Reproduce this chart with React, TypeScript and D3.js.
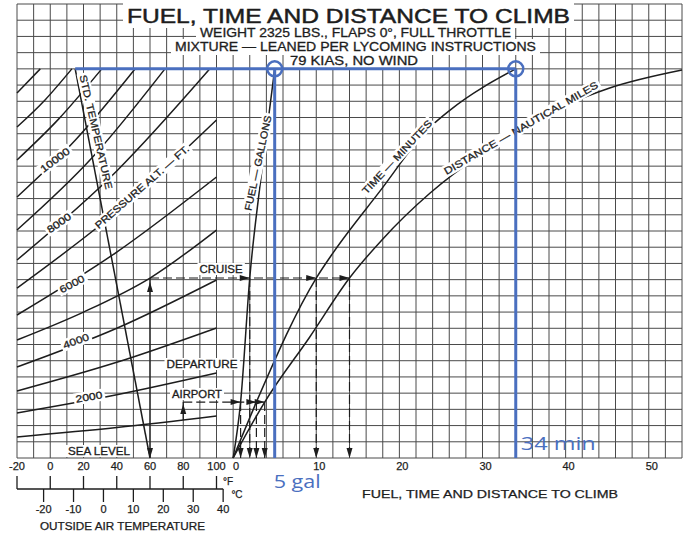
import * as d3 from "d3";
import React, { useEffect, useRef } from "react";

const W = 685;
const H = 533;

// axis ticks
const oatTicksF = [-20, 0, 20, 40, 60, 80, 100];
const oatTicksC = [-20, -10, 0, 10, 20, 30, 40];
const climbTicks = [0, 10, 20, 30, 40, 50];

// pressure altitude lines: [OAT °F, chart level] (level = grid rows above the bottom edge)
const alt1000 = [[-20, 1.3], [40, 1.88], [100, 2.59]];
const alt2000 = [[-20, 2.78], [40, 3.9], [100, 5.24]];
const alt3000 = [[-20, 4.13], [40, 5.9], [100, 8.02]];
const alt4000 = [[-20, 5.61], [40, 8.0], [100, 10.98]];
const alt5000 = [[-20, 7.28], [20, 9.0], [60, 11.1], [100, 14.06]];
const alt6000 = [[-20, 8.82], [40, 12.7], [100, 17.33]];
const alt7000 = [[-20, 10.48], [40, 15.2], [100, 20.85]];
const alt8000 = [[-20, 12.21], [40, 17.7], [96, 24]];
const alt9000 = [[-20, 14.06], [25, 18.5], [69, 24]];
const alt10000 = [[-20, 16.1], [15, 19.6], [51, 24]];
const alt11000 = [[-20, 18.38], [5, 20.9], [31, 24]];
const alt12000 = [[-20, 20.41], [-3, 22.1], [13, 24]];
const alt13000 = [[-20, 22.51], [-6, 24]];
const altitudeLines = [
  alt1000, alt2000, alt3000, alt4000, alt5000, alt6000, alt7000,
  alt8000, alt9000, alt10000, alt11000, alt12000, alt13000,
];

// standard temperature line: [OAT °F, level]
const stdTemperature = [[60, 0], [15, 24]];

// right panel curves: [value, level]
const fuelGallons = [[0, 0], [0.9, 3.45], [2, 11.1], [3.4, 17.5], [5, 24]];
const timeMinutes = [[0, 0], [2.8, 3.45], [10, 11.1], [12, 12.64], [17.5, 16.35], [23.7, 20.41], [26.1, 21.46], [34, 24]];
const distanceNm = [[0, 0], [3.8, 3.45], [9.2, 7.45], [14, 11.1], [17.9, 13.45], [23.7, 16.34], [30, 18.8], [39.3, 21.59], [45.3, 22.82], [54, 23.93]];

// worked example
const cruiseOat = 60;
const cruiseLevel = 11.1;
const cruiseReads = [2, 10, 14]; // fuel, time, distance
const airportOat = 80;
const airportStart = 2.35;
const airportLevel = 3.45;
const airportReads = [0.9, 2.8, 3.8];

// blue annotation
const topLevel = 24;
const topOat = 15;
const answerFuel = 5;
const answerTime = 34;

const App: React.FC = () => {
  const svgRef = useRef<SVGSVGElement>(null);

  useEffect(() => {
    if (!svgRef.current) return;
    const svg = d3.select(svgRef.current);
    svg.selectAll("*").remove();
    svg.append("rect").attr("width", W).attr("height", H).attr("fill", "#fff");

    const col = d3.scaleLinear().domain([0, 40]).range([17, 682]);
    const row = d3.scaleLinear().domain([0, 28]).range([458, 4]);
    const xT = d3.scaleLinear().domain([-20, 100]).range([col(0), col(12)]);
    const xV = d3.scaleLinear().domain([0, 54]).range([col(13), col(40)]);
    const fOfC = (c: number) => (c * 9) / 5 + 32;

    const ink = "#1d1d1d";
    const blue = "#4a6fbf";

    // grid
    const grid = svg.append("g").attr("stroke", "#4a4a4a").attr("stroke-width", 1);
    grid.selectAll("line.v").data(d3.range(41)).join("line").attr("class", "v")
      .attr("x1", (d) => col(d)).attr("x2", (d) => col(d))
      .attr("y1", row(0)).attr("y2", row(28));
    grid.selectAll("line.h").data(d3.range(29)).join("line").attr("class", "h")
      .attr("x1", col(0)).attr("x2", col(40))
      .attr("y1", (d) => row(d)).attr("y2", (d) => row(d));

    const curves = svg.append("g").attr("fill", "none").attr("stroke", ink).attr("stroke-width", 1.5);
    const tLine = d3.line<number[]>().x((d) => xT(d[0])).y((d) => row(d[1])).curve(d3.curveMonotoneX);
    const vLine = d3.line<number[]>().x((d) => xV(d[0])).y((d) => row(d[1])).curve(d3.curveMonotoneX);
    altitudeLines.forEach((pts) => curves.append("path").attr("d", tLine(pts)));
    curves.append("path").attr("d", d3.line<number[]>().x((d) => xT(d[0])).y((d) => row(d[1]))(stdTemperature));
    [fuelGallons, timeMinutes, distanceNm].forEach((pts) => curves.append("path").attr("d", vLine(pts)));

    // arrows
    const arrows = svg.append("g").attr("stroke", ink).attr("stroke-width", 1.2).attr("fill", "none");
    const head = (x: number, y: number, dir: string) => {
      const L = 10, h = 3;
      let p = "";
      if (dir === "right") p = `M${x},${y}L${x - L},${y - h}L${x - L},${y + h}Z`;
      if (dir === "up") p = `M${x},${y}L${x - h},${y + L}L${x + h},${y + L}Z`;
      if (dir === "down") p = `M${x},${y}L${x - h},${y - L}L${x + h},${y - L}Z`;
      svg.append("path").attr("d", p).attr("fill", ink);
    };
    const seg = (x1: number, y1: number, x2: number, y2: number, dashed: boolean) =>
      arrows.append("line").attr("x1", x1).attr("y1", y1).attr("x2", x2).attr("y2", y2)
        .attr("stroke-dasharray", dashed ? "9,4" : null);

    // cruise
    const cy = row(cruiseLevel);
    seg(xT(cruiseOat), row(0), xT(cruiseOat), cy, false);
    head(xT(cruiseOat), cy + 4, "up");
    head(xT(cruiseOat), row(0), "down");
    seg(xT(cruiseOat), cy, xV(cruiseReads[2]), cy, true);
    cruiseReads.forEach((v) => {
      head(xV(v), cy, "right");
      seg(xV(v), cy, xV(v), row(0), true);
      head(xV(v), row(0), "down");
    });
    // departure airport
    const ay = row(airportLevel);
    seg(xT(airportOat), row(airportStart), xT(airportOat), ay, false);
    head(xT(airportOat), ay + 2, "up");
    seg(xT(airportOat), ay, xV(airportReads[2]), ay, true);
    airportReads.forEach((v) => {
      head(xV(v), ay, "right");
      seg(xV(v), ay, xV(v), row(0), true);
      head(xV(v), row(0), "down");
    });

    // labels with white backing
    const label = (text: string, x: number, y: number, angle: number, size: number, len?: number) => {
      const g = svg.append("g").attr("transform", `translate(${x},${y}) rotate(${angle})`);
      const t = g.append("text").attr("text-anchor", "middle").attr("dominant-baseline", "central")
        .attr("fill", ink).attr("stroke", ink).attr("stroke-width", 0.3)
        .style("font-size", `${size}px`).text(text);
      if (len) t.attr("textLength", len).attr("lengthAdjust", "spacingAndGlyphs");
      const b = (t.node() as SVGTextElement).getBBox();
      g.insert("rect", "text").attr("x", b.x - 2).attr("y", b.y - 0.5)
        .attr("width", b.width + 4).attr("height", b.height + 1).attr("fill", "#fff");
    };
    label("SEA LEVEL", 99, 451, 0, 10, 62);
    label("2000", 89, 397, -10, 10, 27);
    label("4000", 76, 341, -20, 10, 27);
    label("6000", 72, 284, -28, 10, 27);
    label("8000", 59, 223, -35, 10, 27);
    label("10000", 55, 160, -37, 10, 34);
    label("PRESSURE ALT. — FT.", 142, 187, -41, 10, 121);
    label("STD. TEMPERATURE", 96, 132, 77, 10, 117);
    label("FUEL — GALLONS", 258, 163, -78, 10, 97);
    label("TIME — MINUTES", 397, 157, -47, 10, 97);
    label("DISTANCE — NAUTICAL MILES", 521, 128, -30, 10, 176);
    label("CRUISE", 221, 269, 0, 10, 43);
    label("DEPARTURE", 202, 364, 0, 10, 71);
    label("AIRPORT", 197, 394, 0, 10, 50);

    // title block
    const head1 = (text: string, x: number, y: number, size: number, len: number, top?: number) => {
      const t = svg.append("text").attr("x", x).attr("y", y).attr("text-anchor", "middle")
        .attr("fill", ink).attr("stroke", ink).attr("stroke-width", size > 15 ? 0.5 : 0.3)
        .style("font-size", `${size}px`)
        .attr("textLength", len).attr("lengthAdjust", "spacingAndGlyphs").text(text);
      const b = (t.node() as SVGTextElement).getBBox();
      const y0 = top ?? b.y - 1;
      svg.insert("rect", () => t.node() as any).attr("x", b.x - 4).attr("y", y0)
        .attr("width", b.width + 8).attr("height", b.y + b.height + 1 - y0).attr("fill", "#fff");
    };
    head1("FUEL, TIME AND DISTANCE TO CLIMB", 348.5, 23, 21, 443, 0);
    head1("WEIGHT 2325 LBS., FLAPS 0°, FULL THROTTLE", 355.5, 37, 12.5, 311);
    head1("MIXTURE — LEANED PER LYCOMING INSTRUCTIONS", 355.5, 51, 12.5, 361);
    head1("79 KIAS, NO WIND", 354, 65, 12.5, 128);

    // bottom scales
    const ax = svg.append("g").attr("stroke", ink).attr("stroke-width", 1.3);
    ax.append("line").attr("x1", xT(-20)).attr("x2", xT(fOfC(40))).attr("y1", 489).attr("y2", 489);
    oatTicksF.forEach((f) => ax.append("line").attr("x1", xT(f)).attr("x2", xT(f)).attr("y1", 476).attr("y2", 489));
    oatTicksC.forEach((c) => ax.append("line").attr("x1", xT(fOfC(c))).attr("x2", xT(fOfC(c))).attr("y1", 489).attr("y2", 502));

    const txt = (s: string, x: number, y: number, size: number, len?: number) => {
      const t = svg.append("text").attr("x", x).attr("y", y).attr("text-anchor", "middle")
        .attr("fill", ink).attr("stroke", ink).attr("stroke-width", 0.25)
        .style("font-size", `${size}px`).text(s);
      if (len) t.attr("textLength", len).attr("lengthAdjust", "spacingAndGlyphs");
    };
    oatTicksF.forEach((f) => txt(String(f), xT(f), 470, 11));
    oatTicksC.forEach((c) => txt(String(c), xT(fOfC(c)), 513, 11));
    climbTicks.forEach((v) => txt(String(v), xV(v) + 3, 470, 11));
    txt("°F", 228, 485, 10);
    txt("°C", 237, 498, 10);
    txt("OUTSIDE AIR TEMPERATURE", 122.5, 530, 10, 165);
    txt("FUEL, TIME AND DISTANCE TO CLIMB", 490, 498, 11, 256);

    // blue annotation
    const bl = svg.append("g").attr("stroke", blue).attr("fill", "none");
    const ty = row(topLevel);
    bl.append("line").attr("x1", xT(topOat)).attr("x2", xV(answerTime)).attr("y1", ty).attr("y2", ty).attr("stroke-width", 3);
    [answerFuel, answerTime].forEach((v) => {
      bl.append("line").attr("x1", xV(v)).attr("x2", xV(v)).attr("y1", ty).attr("y2", row(0)).attr("stroke-width", 3);
      bl.append("circle").attr("cx", xV(v)).attr("cy", ty).attr("r", 7.5).attr("stroke-width", 2.5);
    });
    svg.append("text").attr("x", xV(answerFuel) - 1).attr("y", 488).attr("fill", blue)
      .style("font-family", "'Open Sans', sans-serif").style("font-size", "19px")
      .attr("textLength", 47).attr("lengthAdjust", "spacingAndGlyphs").text(`${answerFuel} gal`);
    svg.append("text").attr("x", xV(answerTime) + 5).attr("y", 450).attr("fill", blue)
      .style("font-family", "'Open Sans', sans-serif").style("font-size", "19px")
      .attr("textLength", 75).attr("lengthAdjust", "spacingAndGlyphs").text(`${answerTime} min`);
  }, []);

  return (
    <svg
      ref={svgRef}
      width={W}
      height={H}
      style={{ position: "absolute", left: 0, top: 0, fontFamily: "'Liberation Sans', Arial, sans-serif" }}
    />
  );
};

export default App;
